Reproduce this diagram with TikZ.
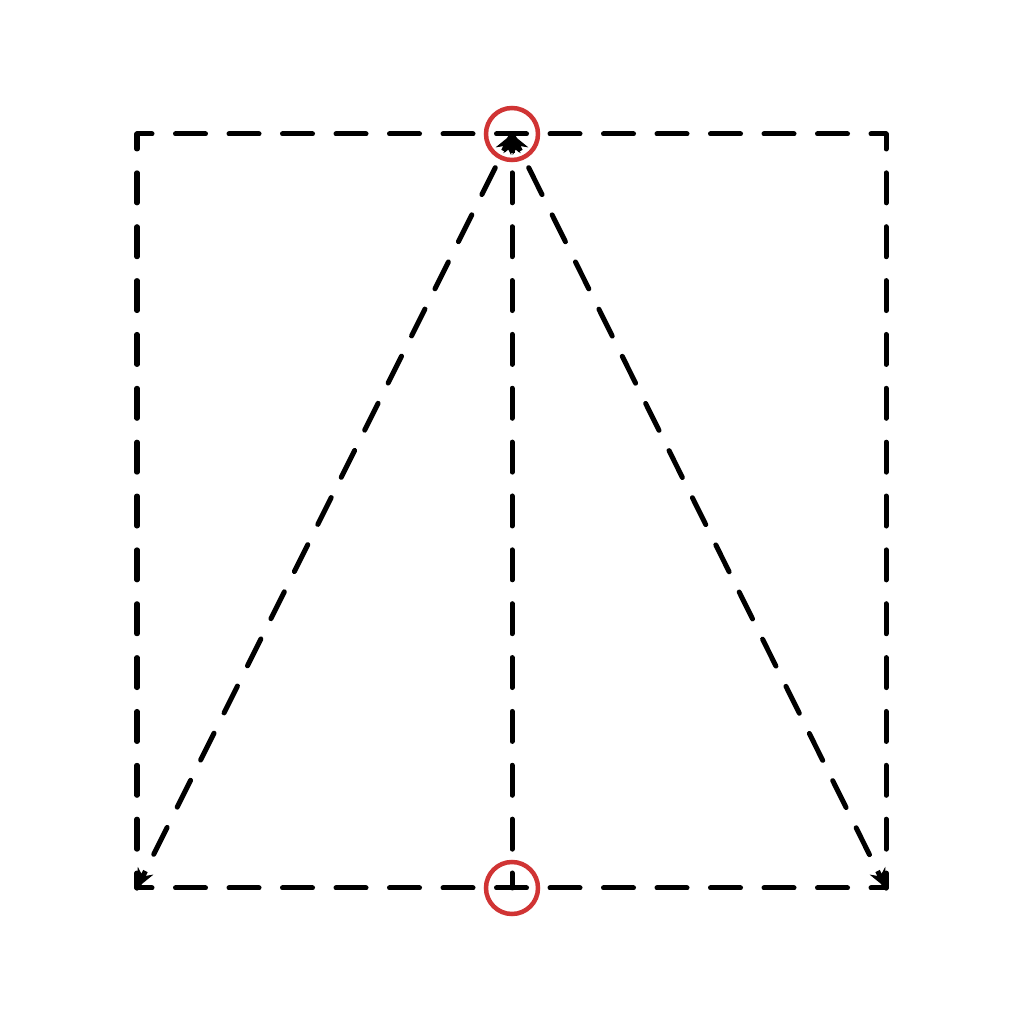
\documentclass[tikz,border=0pt]{standalone}
\usetikzlibrary{arrows.meta,calc}
\definecolor{markred}{RGB}{208,52,52}
\tikzset{
  dbase/.style={line width=0.05cm, line cap=round},
  hline/.style={dbase, dash pattern=on 0.30cm off 0.235cm, dash phase=0.15cm},
  vline/.style={dbase, dash pattern=on 0.30cm off 0.2386cm, dash phase=0.15cm},
  diagline/.style={dbase, dash pattern=on 0.30cm off 0.2263cm, dash phase=0.15cm},
  tipline/.style={line width=0.05cm, -{Stealth[length=1.9mm,width=1.7mm,inset=0.6mm]}},
  marker/.style={circle, draw=markred, line width=0.045cm, minimum size=0.52cm, inner sep=0pt}
}
\begin{document}
\begin{tikzpicture}
\useasboundingbox (0,0) rectangle (10.24,10.24);
\coordinate (tl) at (1.37,8.90);
\coordinate (tr) at (8.86,8.90);
\coordinate (bl) at (1.37,1.36);
\coordinate (br) at (8.86,1.36);
\coordinate (tc) at (5.12,8.90);
\coordinate (bc) at (5.12,1.36);
% rectangle edges
\draw[hline] (tl) -- (tr);
\draw[hline] (bl) -- (br);
\draw[vline] (tl) -- (bl);
\draw[vline] (tr) -- (br);
% centre line and diagonals
\draw[vline] (bc) -- (tc);
\draw[diagline] (tc) -- (bl);
\draw[diagline] (tc) -- (br);
% arrow tips
\draw[tipline] ($(tc)!1.9mm!(bc)$) -- (tc);
\draw[tipline] ($(tc)!1.9mm!(bl)$) -- (tc);
\draw[tipline] ($(tc)!1.9mm!(br)$) -- (tc);
\draw[tipline] ($(bl)!1.9mm!(tc)$) -- (bl);
\draw[tipline] ($(br)!1.9mm!(tc)$) -- (br);
% markers
\node[marker] (ct) at (tc) {};
\node[marker] (cb) at (bc) {};
\end{tikzpicture}
\end{document}
